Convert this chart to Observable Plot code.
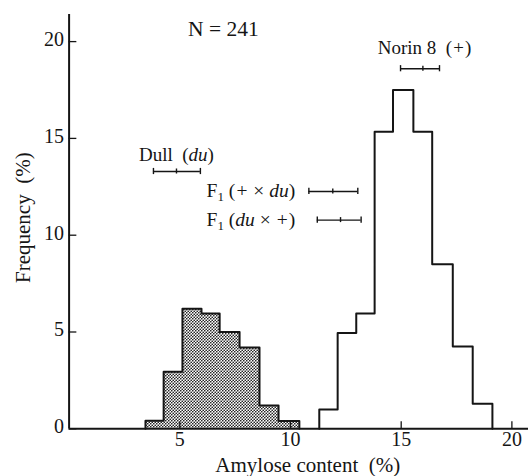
<!DOCTYPE html>
<html><head><meta charset="utf-8">
<script src="https://cdn.jsdelivr.net/npm/d3@7"></script>
<script src="https://cdn.jsdelivr.net/npm/@observablehq/plot@0.6"></script>
<style>
body{margin:0;background:#fff}
svg text{white-space:pre}
</style>
</head><body><div id="chart"></div>
<script>
// Histogram of amylose content (%), frequency (%)
const dullEdges = [3.45, 4.27, 5.12, 5.98, 6.80, 7.70, 8.60, 9.46, 10.40];
const dullFreq  = [0.41, 2.95, 6.2, 5.95, 5.0, 4.2, 1.2, 0.4];
const norinEdges = [11.30, 12.13, 12.97, 13.80, 14.63, 15.55, 16.40, 17.33, 18.23, 19.12];
const norinFreq  = [1.0, 4.95, 5.95, 15.35, 17.5, 15.35, 8.5, 4.25, 1.3];

// Parental / F1 ranges (low, mean, high) and their heights
const rangeNames = ["Dull (du)", "Norin 8 (+)", "F1 (+ x du)", "F1 (du x +)"];
const rangeLow   = [3.81, 14.97, 10.83, 11.21];
const rangeMid   = [4.85, 15.98, 11.91, 12.26];
const rangeHigh  = [5.93, 16.73, 13.04, 13.19];
const rangeY     = [13.29, 18.6, 12.26, 10.78];

// Annotations
const countText = "N = 241";
const countX = 6.97, countY = 20.67;
const centerText = ["Norin 8  (+)", "Dull  (du)"];
const centerX    = [16.05, 4.85];
const centerY    = [19.70, 14.16];
const startText  = ["F₁ (+ × du)", "F₁ (du × +)"];
const startX     = [6.21, 6.21];
const startY     = [12.30, 10.80];

const xTicks = [5, 10, 15, 20];
const yTicks = [0, 5, 10, 15, 20];
const xLabel = "Amylose content  (%)";
const yLabel = "Frequency  (%)";

const xMax = 20.75, yMax = 21.4;

function bins(edges, freq) {
  return freq.map((f, i) => ({x1: edges[i], x2: edges[i + 1], f}));
}
function stepPath(edges, freq) {
  const pts = [{x: edges[0], y: 0}];
  freq.forEach((f, i) => pts.push({x: edges[i], y: f}));
  pts.push({x: edges[edges.length - 1], y: 0});
  return pts;
}
const ranges = rangeNames.map((name, i) => ({name, lo: rangeLow[i], mid: rangeMid[i], hi: rangeHigh[i], y: rangeY[i]}));
const centerLabels = centerText.map((t, i) => ({t, x: centerX[i], y: centerY[i]}));
const startLabels = startText.map((t, i) => ({t, x: startX[i], y: startY[i]}));

const ink = "#151515";
const capH = 0.16, midH = 0.13;

const plot = Plot.plot({
  width: 528, height: 476,
  marginLeft: 68.6, marginRight: 0, marginTop: 14, marginBottom: 47.7,
  x: {domain: [0, xMax], axis: null},
  y: {domain: [0, yMax], axis: null},
  style: {fontFamily: "'Liberation Serif', 'Times New Roman', serif", fontSize: "20px", background: "#fff", color: ink},
  marks: [
    Plot.rect(bins(dullEdges, dullFreq), {x1: "x1", x2: "x2", y1: 0, y2: "f", fill: "url(#stipple)"}),
    Plot.line(stepPath(dullEdges, dullFreq), {x: "x", y: "y", curve: "step-after", stroke: ink, strokeWidth: 2}),
    Plot.line(stepPath(norinEdges, norinFreq), {x: "x", y: "y", curve: "step-after", stroke: ink, strokeWidth: 2}),
    // axes
    Plot.ruleY([0], {x1: 0, x2: xMax, stroke: ink, strokeWidth: 2}),
    Plot.ruleX([0], {y1: 0, y2: yMax, stroke: ink, strokeWidth: 2}),
    Plot.ruleX(xTicks, {y1: 0, y2: 0.36, stroke: ink, strokeWidth: 1.3}),
    Plot.ruleY(yTicks, {x1: 0, x2: 0.35, stroke: ink, strokeWidth: 1.3}),
    Plot.text(xTicks, {x: d => d, y: 0, text: d => String(d), lineAnchor: "top", dy: 3, fill: ink, fontSize: 20}),
    Plot.text(yTicks, {x: 0, y: d => d, text: d => String(d), textAnchor: "end", dx: -5, dy: -2, fill: ink, fontSize: 20}),
    Plot.text([xLabel], {frameAnchor: "bottom", textAnchor: "middle", dx: 9, dy: 43, fill: ink, fontSize: 21}),
    Plot.text([yLabel], {frameAnchor: "left", textAnchor: "middle", rotate: -90, dx: -46, dy: -4, fill: ink, fontSize: 21}),
    // ranges
    Plot.ruleY(ranges, {x1: "lo", x2: "hi", y: "y", stroke: ink, strokeWidth: 1.4}),
    Plot.ruleX(ranges, {x: "lo", y1: d => d.y - capH, y2: d => d.y + capH, stroke: ink, strokeWidth: 1.4}),
    Plot.ruleX(ranges, {x: "hi", y1: d => d.y - capH, y2: d => d.y + capH, stroke: ink, strokeWidth: 1.4}),
    Plot.ruleX(ranges, {x: "mid", y1: d => d.y - midH, y2: d => d.y + midH, stroke: ink, strokeWidth: 1.4}),
    // annotations
    Plot.text([countText], {x: countX, y: countY, textAnchor: "middle", fill: ink, fontSize: 21.5}),
    Plot.text(centerLabels, {x: "x", y: "y", text: "t", textAnchor: "middle", fill: ink, fontSize: 19}),
    Plot.text(startLabels, {x: "x", y: "y", text: "t", textAnchor: "start", fill: ink, fontSize: 19.5})
  ]
});

// stipple pattern for the dull histogram
const defs = document.createElementNS("http://www.w3.org/2000/svg", "defs");
defs.innerHTML = '<pattern id="stipple" width="3" height="3" patternUnits="userSpaceOnUse">' +
  '<rect width="3" height="3" fill="#fff"/>' +
  '<circle cx="0.75" cy="0.75" r="0.85" fill="#222"/>' +
  '<circle cx="2.25" cy="2.25" r="0.85" fill="#222"/></pattern>';
plot.insertBefore(defs, plot.firstChild);

// italics for genotype symbols, subscript for F1
const NS = "http://www.w3.org/2000/svg";
const annot = new Set([...centerText, ...startText]);
plot.querySelectorAll("text").forEach(el => {
  const s = el.textContent;
  if (!annot.has(s) || !/du|\+|₁/.test(s)) return;
  el.textContent = "";
  let shifted = false;
  s.split(/(du|\+|₁)/).forEach(part => {
    if (!part) return;
    const ts = document.createElementNS(NS, "tspan");
    if (part === "₁") {
      ts.textContent = "1";
      ts.setAttribute("font-size", "13");
      ts.setAttribute("dy", "4");
      shifted = true;
    } else {
      ts.textContent = part;
      if (part === "du" || part === "+") ts.setAttribute("font-style", "italic");
      if (shifted) { ts.setAttribute("dy", "-4"); shifted = false; }
    }
    el.appendChild(ts);
  });
});

document.getElementById("chart").appendChild(plot);
</script>
</body></html>
